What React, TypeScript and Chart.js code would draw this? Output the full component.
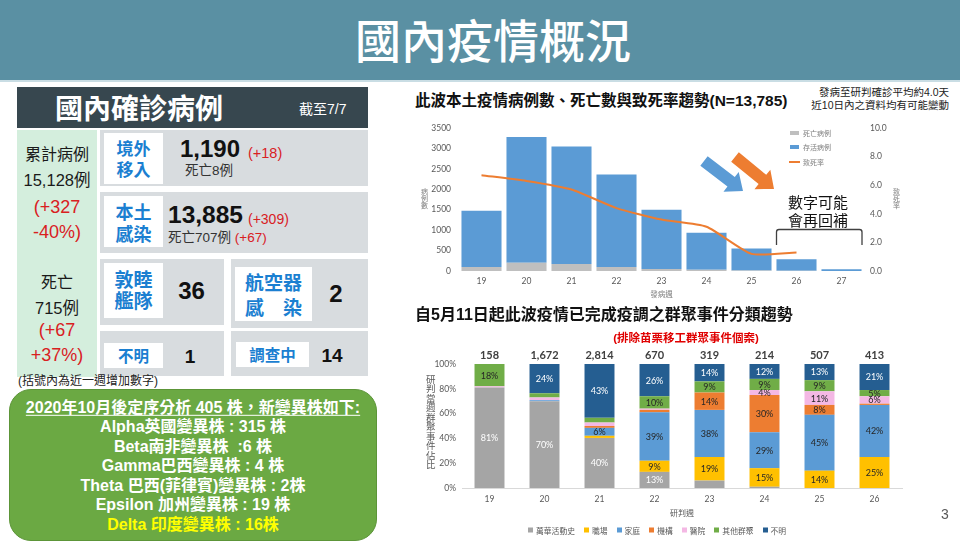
import React, { useEffect, useRef } from "react";
import { Chart, registerables } from "chart.js";

Chart.register(...registerables);

// ---------- DATA ----------
const onsetWeeks = ["19", "20", "21", "22", "23", "24", "25", "26", "27"];
const deathCases = [100, 200, 170, 100, 50, 30, 15, 5, 0];
const survivingCases = [1375, 3085, 2880, 2265, 1450, 905, 535, 285, 40];
const fatalityRate = [6.7, 6.3, 5.7, 4.4, 3.6, 3.1, 1.2, 1.3, null];
const leftTicks = [0, 500, 1000, 1500, 2000, 2500, 3000, 3500];

const clusterWeeks = ["19", "20", "21", "22", "23", "24", "25", "26"];
const clusterTotals = ["158", "1,672", "2,814", "670", "319", "214", "507", "413"];
const wanhua = [81, 70, 40.4, 13, 6, 1, 0, 0];
const workplace = [0, 0, 1.7, 9, 19, 15, 14, 25];
const family = [0, 0.8, 6.4, 39, 38, 29, 45, 42];
const institution = [0, 0, 1.5, 2, 14, 30, 8, 1];
const hospital = [1, 2.2, 2.8, 1, 0, 4, 11, 6];
const otherCluster = [18, 3.4, 3.8, 10, 9, 9, 9, 5];
const unknownSrc = [0, 23.6, 43.4, 26, 14, 12, 13, 21];

const wanhuaLabels = ["81%", "70%", "40%", "13%", "", "", "", ""];
const workplaceLabels = ["", "", "", "9%", "19%", "15%", "14%", "25%"];
const familyLabels = ["", "", "6%", "39%", "38%", "29%", "45%", "42%"];
const institutionLabels = ["", "", "", "", "14%", "30%", "8%", ""];
const hospitalLabels = ["", "", "", "", "", "4%", "11%", "6%"];
const otherLabels = ["18%", "", "", "10%", "9%", "9%", "9%", "5%"];
const unknownLabels = ["", "24%", "43%", "26%", "14%", "12%", "13%", "21%"];

const clusterSeriesNames = ["萬華活動史", "職場", "家庭", "機構", "醫院", "其他群聚", "不明"];
const clusterColors = ["#a5a5a5", "#ffc000", "#5b9bd5", "#ed7d31", "#f4b8e4", "#70ad47", "#255e91"];

const variantLines = [
  "Alpha英國變異株 : 315 株",
  "Beta南非變異株  :6 株",
  "Gamma巴西變異株 : 4 株",
  "Theta 巴西(菲律賓)變異株 : 2株",
  "Epsilon 加州變異株 : 19 株",
];

// ---------- STYLE ----------
const FONT_CJK = "'Noto Sans CJK TC', sans-serif";
const FONT_MIX = "'Liberation Sans', 'Noto Sans CJK TC', sans-serif";
const FONT_CHART = "Lato, 'Noto Sans CJK TC', sans-serif";
const RED = "#d9201f";
const BLUE_TXT = "#1b7fd1";

Chart.defaults.font.family = FONT_CHART;

type TP = {
  x: number; y: number; size: number; color?: string; weight?: number | string;
  align?: "left" | "center" | "right"; font?: string; children?: React.ReactNode; style?: React.CSSProperties;
};
function T({ x, y, size, color = "#1a1a1a", weight = 400, align = "left", font = FONT_MIX, children, style }: TP) {
  const tx = align === "center" ? "-50%" : align === "right" ? "-100%" : "0";
  return (
    <div
      style={{
        position: "absolute", left: x, top: y, transform: `translate(${tx},-50%)`,
        fontSize: size, color, fontWeight: weight as any, fontFamily: font, whiteSpace: "pre",
        lineHeight: 1.15, ...style,
      }}
    >
      {children}
    </div>
  );
}
function VT({ x, y, size, color = "#7f7f7f", children }: TP) {
  return (
    <div
      style={{
        position: "absolute", left: x, top: y, transform: "translate(-50%,-50%)",
        writingMode: "vertical-rl", textOrientation: "upright", fontSize: size, color,
        fontFamily: FONT_CJK, lineHeight: 1, letterSpacing: 0,
      }}
    >
      {children}
    </div>
  );
}
function Box({ l, t, w, h, bg }: { l: number; t: number; w: number; h: number; bg: string }) {
  return <div style={{ position: "absolute", left: l, top: t, width: w, height: h, background: bg }} />;
}

function arrowPts(x1: number, y1: number, x2: number, y2: number, sw: number, hw: number, hl: number) {
  const dx = x2 - x1, dy = y2 - y1, L = Math.hypot(dx, dy);
  const ux = dx / L, uy = dy / L, px = -uy, py = ux;
  const bx = x2 - ux * hl, by = y2 - uy * hl;
  const p = [
    [x1 + (px * sw) / 2, y1 + (py * sw) / 2],
    [bx + (px * sw) / 2, by + (py * sw) / 2],
    [bx + (px * hw) / 2, by + (py * hw) / 2],
    [x2, y2],
    [bx - (px * hw) / 2, by - (py * hw) / 2],
    [bx - (px * sw) / 2, by - (py * sw) / 2],
    [x1 - (px * sw) / 2, y1 - (py * sw) / 2],
  ];
  return p.map((q) => q.join(",")).join(" ");
}

// ---------- CHARTS ----------
function TrendChart() {
  const ref = useRef<HTMLCanvasElement>(null);
  useEffect(() => {
    const chart = new Chart(ref.current!, {
      type: "bar",
      data: {
        labels: onsetWeeks,
        datasets: [
          {
            type: "line", label: "致死率", data: fatalityRate as any, yAxisID: "y1",
            borderColor: "#ed7d31", borderWidth: 2, pointRadius: 0, tension: 0.2, order: 0,
          } as any,
          {
            label: "死亡病例", data: deathCases, backgroundColor: "#bfbfbf", stack: "s", order: 1,
            barPercentage: 0.89, categoryPercentage: 1,
          },
          {
            label: "存活病例", data: survivingCases, backgroundColor: "#5b9bd5", stack: "s", order: 1,
            barPercentage: 0.89, categoryPercentage: 1,
          },
        ],
      },
      options: {
        animation: false, responsive: false, maintainAspectRatio: false,
        layout: { padding: { top: 11, left: 0, right: 0, bottom: 0 } },
        plugins: { legend: { display: false }, tooltip: { enabled: false } },
        scales: {
          x: {
            stacked: true, grid: { display: false, drawTicks: false }, border: { display: false },
            ticks: { padding: 5, color: "#595959", font: { size: 8.5 } },
            title: { display: true, text: "發病週", color: "#7f7f7f", font: { size: 7.5 }, padding: { top: 0, bottom: 1 } },
            afterFit: (s: any) => { s.height = 29; },
          },
          y: {
            stacked: true, min: 0, max: leftTicks[leftTicks.length - 1],
            grid: { display: false, drawTicks: false }, border: { display: false },
            ticks: {
              stepSize: leftTicks[1] - leftTicks[0], padding: 8, color: "#595959", font: { size: 8.5 },
              callback: (v: any) => String(v),
            },
            afterFit: (s: any) => { s.width = 49; },
          },
          y1: {
            position: "right", min: 0, max: 10,
            grid: { display: false, drawTicks: false }, border: { display: false },
            ticks: { stepSize: 2, padding: 6, color: "#595959", font: { size: 8.5 }, callback: (v: any) => Number(v).toFixed(1) },
            afterFit: (s: any) => { s.width = 46; },
          },
        },
      } as any,
    });
    return () => chart.destroy();
  }, []);
  return <canvas ref={ref} width={500} height={185} style={{ position: "absolute", left: 410, top: 115 }} />;
}

const segLabelPlugin = {
  id: "segLabels",
  afterDatasetsDraw(chart: any) {
    const ctx = chart.ctx;
    ctx.save();
    ctx.textAlign = "center";
    ctx.textBaseline = "middle";
    chart.data.datasets.forEach((ds: any, i: number) => {
      const meta = chart.getDatasetMeta(i);
      ctx.font = `9px ${FONT_CHART}`;
      ctx.fillStyle = ds.labelColor;
      meta.data.forEach((el: any, j: number) => {
        const t = ds.segLabels[j];
        if (!t) return;
        const { x, y, base } = el.getProps(["x", "y", "base"], true);
        ctx.fillText(t, x, (y + base) / 2 + 0.5);
      });
    });
    const meta0 = chart.getDatasetMeta(0);
    ctx.font = `bold 11px ${FONT_CHART}`;
    ctx.fillStyle = "#404040";
    meta0.data.forEach((el: any, j: number) => {
      ctx.fillText(clusterTotals[j], el.x, chart.chartArea.top - 9);
    });
    ctx.restore();
  },
};

function ClusterChart() {
  const ref = useRef<HTMLCanvasElement>(null);
  useEffect(() => {
    const values = [wanhua, workplace, family, institution, hospital, otherCluster, unknownSrc];
    const labels = [wanhuaLabels, workplaceLabels, familyLabels, institutionLabels, hospitalLabels, otherLabels, unknownLabels];
    const labelColors = ["#ffffff", "#262626", "#262626", "#262626", "#262626", "#262626", "#ffffff"];
    const chart = new Chart(ref.current!, {
      type: "bar",
      data: {
        labels: clusterWeeks,
        datasets: values.map((d, i) => ({
          label: clusterSeriesNames[i], data: d, backgroundColor: clusterColors[i], stack: "c",
          barPercentage: 0.545, categoryPercentage: 1, segLabels: labels[i], labelColor: labelColors[i],
        })) as any,
      },
      options: {
        animation: false, responsive: false, maintainAspectRatio: false,
        layout: { padding: { top: 19, left: 0, right: 8, bottom: 0 } },
        plugins: { legend: { display: false }, tooltip: { enabled: false } },
        scales: {
          x: {
            stacked: true, grid: { display: false, drawTicks: false }, border: { display: true, color: "#d9d9d9" },
            ticks: { padding: 6, color: "#595959", font: { size: 8.5 } },
            title: { display: true, text: "研判週", color: "#595959", font: { size: 8 }, padding: { top: 0, bottom: 10 } },
            afterFit: (s: any) => { s.height = 40; },
          },
          y: {
            stacked: true, min: 0, max: 100,
            grid: { display: false, drawTicks: false }, border: { display: false },
            ticks: { stepSize: 20, padding: 6, color: "#595959", font: { size: 8.5 }, callback: (v: any) => `${v}%` },
            afterFit: (s: any) => { s.width = 52; },
          },
        },
      } as any,
      plugins: [segLabelPlugin],
    });
    return () => chart.destroy();
  }, []);
  return <canvas ref={ref} width={500} height={183} style={{ position: "absolute", left: 410, top: 345 }} />;
}

// ---------- APP ----------
export default function App() {
  return (
    <div style={{ position: "absolute", left: 0, top: 0, width: 960, height: 543, background: "#fff", overflow: "hidden", fontFamily: FONT_MIX }}>
      {/* Banner */}
      <Box l={0} t={0} w={960} h={80} bg="#5a90a3" />
      <Box l={0} t={80} w={960} h={2} bg="#c9dde4" />
      <T x={493} y={38} size={46} color="#fff" weight={500} align="center" font={FONT_CJK}>國內疫情概況</T>

      {/* Left panel */}
      <Box l={17} t={87} w={351} h={41} bg="#37474f" />
      <T x={55} y={107} size={28} color="#fff" weight={700} font={FONT_CJK}>國內確診病例</T>
      <T x={299} y={109} size={14} color="#fff" font={FONT_MIX}>截至7/7</T>

      <Box l={17} t={130} w={80} h={247} bg="#d4eedd" />
      <T x={57} y={155} size={16} align="center">累計病例</T>
      <T x={57} y={180} size={16.5} align="center">15,128例</T>
      <T x={57} y={207} size={18} align="center" color={RED}>(+327</T>
      <T x={57} y={232} size={18} align="center" color={RED}>-40%)</T>
      <T x={57} y={283} size={16} align="center">死亡</T>
      <T x={57} y={308} size={16.5} align="center">715例</T>
      <T x={57} y={330} size={18} align="center" color={RED}>(+67</T>
      <T x={57} y={355} size={18} align="center" color={RED}>+37%)</T>

      <Box l={100} t={130} w={268} h={56} bg="#d8dcdf" />
      <Box l={104} t={133} w={59} h={51} bg="#fff" />
      <T x={133.5} y={148} size={17} weight={700} align="center" color={BLUE_TXT} font={FONT_CJK}>境外</T>
      <T x={133.5} y={169} size={17} weight={700} align="center" color={BLUE_TXT} font={FONT_CJK}>移入</T>
      <T x={180} y={149} size={24} weight={700} color="#111">1,190</T>
      <T x={248} y={153} size={14.5} color={RED}>(+18)</T>
      <T x={185} y={171} size={13.5} color="#333">死亡8例</T>

      <Box l={100} t={192} w={268} h={61} bg="#d8dcdf" />
      <Box l={104} t={196} w={59} h={51} bg="#fff" />
      <T x={133.5} y={211} size={18} weight={700} align="center" color={BLUE_TXT} font={FONT_CJK}>本土</T>
      <T x={133.5} y={233} size={18} weight={700} align="center" color={BLUE_TXT} font={FONT_CJK}>感染</T>
      <T x={168} y={215} size={24.5} weight={700} color="#111">13,885</T>
      <T x={248} y={219} size={14} color={RED}>(+309)</T>
      <T x={168} y={238} size={13.5} color="#333">死亡707例 <span style={{ color: RED }}>(+67)</span></T>

      <Box l={100} t={259} w={124} h={66} bg="#d8dcdf" />
      <Box l={104} t={263} w={59} h={55} bg="#fff" />
      <T x={133.5} y={279} size={19} weight={700} align="center" color={BLUE_TXT} font={FONT_CJK}>敦睦</T>
      <T x={133.5} y={300} size={19} weight={700} align="center" color={BLUE_TXT} font={FONT_CJK}>艦隊</T>
      <T x={191.5} y={291} size={24} weight={700} align="center" color="#111">36</T>

      <Box l={231} t={259} w={137} h={69} bg="#d8dcdf" />
      <Box l={235} t={267} w={77} h={54} bg="#fff" />
      <T x={273.5} y={282} size={19} weight={700} align="center" color={BLUE_TXT} font={FONT_CJK}>航空器</T>
      <T x={273.5} y={307} size={19} weight={700} align="center" color={BLUE_TXT} font={FONT_CJK}>感　染</T>
      <T x={336} y={294} size={24} weight={700} align="center" color="#111">2</T>

      <Box l={100} t={331} w={124} h={45} bg="#d8dcdf" />
      <Box l={104} t={343} w={59} h={25} bg="#fff" />
      <T x={133.5} y={356} size={15.5} weight={700} align="center" color={BLUE_TXT} font={FONT_CJK}>不明</T>
      <T x={190} y={357} size={19} weight={700} align="center" color="#111">1</T>

      <Box l={231} t={331} w={137} h={45} bg="#d8dcdf" />
      <Box l={236} t={342} w={73} h={25} bg="#fff" />
      <T x={272.5} y={355} size={15.5} weight={700} align="center" color={BLUE_TXT} font={FONT_CJK}>調查中</T>
      <T x={332} y={356} size={19} weight={700} align="center" color="#111">14</T>

      <T x={18} y={382} size={12} color="#222">(括號內為近一週增加數字)</T>

      {/* Variant box */}
      <div style={{ position: "absolute", left: 9, top: 389, width: 368, height: 152, background: "#6ba943", border: "1px solid #5c9538", borderRadius: 22, boxSizing: "border-box" }} />
      <T x={193} y={408} size={16} weight={700} color="#fff" align="center" style={{ textDecoration: "underline", textUnderlineOffset: 2 }}>2020年10月後定序分析 405 株，新變異株如下:</T>
      {variantLines.map((s, i) => (
        <T key={i} x={193} y={427 + i * 19.5} size={16} weight={700} color="#fff" align="center">{s}</T>
      ))}
      <T x={193} y={525} size={16} weight={700} color="#ffff00" align="center">Delta 印度變異株 : 16株</T>

      {/* Top-right chart */}
      <T x={415} y={101} size={15.5} weight={700} color="#111">此波本土疫情病例數、死亡數與致死率趨勢(N=13,785)</T>
      <T x={949} y={92} size={10.5} color="#222" align="right">發病至研判確診平均約4.0天</T>
      <T x={949} y={105} size={10.5} color="#222" align="right">近10日內之資料均有可能變動</T>
      <TrendChart />
      <VT x={424} y={198} size={7}>病例數</VT>
      <VT x={896} y={198} size={7}>致死率</VT>
      <Box l={790} t={131} w={9} h={4} bg="#bfbfbf" />
      <T x={803} y={133} size={7} color="#7f7f7f" font={FONT_CJK}>死亡病例</T>
      <Box l={790} t={145} w={9} h={4} bg="#5b9bd5" />
      <T x={803} y={147} size={7} color="#7f7f7f" font={FONT_CJK}>存活病例</T>
      <Box l={789} t={161} w={11} h={2} bg="#ed7d31" />
      <T x={803} y={162} size={7} color="#7f7f7f" font={FONT_CJK}>致死率</T>
      <svg width={960} height={543} style={{ position: "absolute", left: 0, top: 0, pointerEvents: "none" }}>
        <polygon points={arrowPts(704, 161, 743, 191, 12, 25, 15)} fill="#5b9bd5" />
        <polygon points={arrowPts(735, 157, 774, 189, 12, 25, 15)} fill="#ed7d31" />
        <path d="M776.5 245 L776.5 232 Q776.5 229.5 779 229.5 L859.5 229.5 Q862 229.5 862 232 L862 245" fill="none" stroke="#404040" strokeWidth={1.3} />
      </svg>
      <T x={818} y={202} size={15} color="#111" align="center" font={FONT_CJK}>數字可能</T>
      <T x={818} y={220} size={15} color="#111" align="center" font={FONT_CJK}>會再回補</T>

      {/* Bottom-right chart */}
      <T x={415} y={315} size={16} weight={700} color="#111">自5月11日起此波疫情已完成疫調之群聚事件分類趨勢</T>
      <T x={686} y={339} size={11.5} weight={700} color="#e00000" align="center">(排除苗栗移工群聚事件個案)</T>
      <ClusterChart />
      <VT x={430} y={422} size={9.5} color="#595959">研判當週群聚事件佔比</VT>
      <div style={{ position: "absolute", left: 528, top: 530, transform: "translateY(-50%)", display: "flex", gap: 9, alignItems: "center", fontFamily: FONT_CJK, fontSize: 7.8, color: "#595959", whiteSpace: "nowrap" }}>
        {clusterSeriesNames.map((n, i) => (
          <div key={n} style={{ display: "flex", alignItems: "center", gap: 3 }}>
            <div style={{ width: 5, height: 5, background: clusterColors[i] }} />
            <span>{n}</span>
          </div>
        ))}
      </div>
      <T x={945} y={514} size={14} color="#595959" align="center">3</T>
    </div>
  );
}
